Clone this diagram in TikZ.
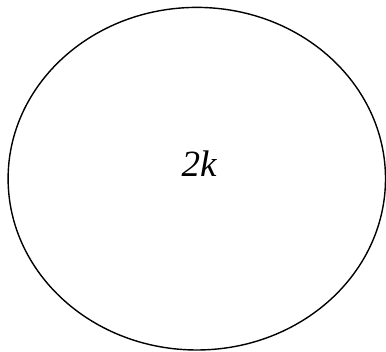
\documentclass[tikz,border=0pt]{standalone}
\usepackage{fontspec}
\setmainfont{Liberation Serif}
\usetikzlibrary{shapes.geometric}
\begin{document}
\begin{tikzpicture}[x=1pt,y=1pt,
  ell/.style={draw=black,line width=1.4pt,ellipse,minimum width=377.4pt,minimum height=342.6pt,inner sep=0pt,outer sep=0pt},
  lab/.style={font=\fontsize{37}{40}\selectfont\itshape,inner sep=0pt}]
\useasboundingbox (0,0) rectangle (386,352);
\node[ell] (e) at (196.8,173.3) {};
\node[lab] (t) at (199,188) {2k};
\end{tikzpicture}
\end{document}
